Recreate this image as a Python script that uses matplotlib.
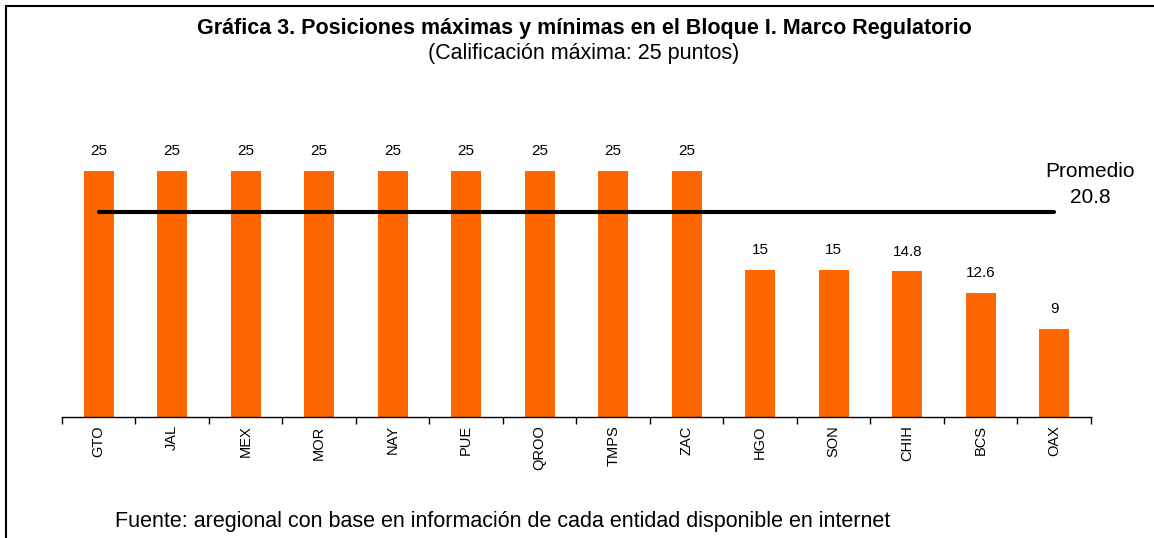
import numpy as np
import matplotlib.pyplot as plt
from matplotlib.patches import Rectangle

plt.rcParams['font.family'] = ['Liberation Sans', 'DejaVu Sans']

# Datos
estados = ['GTO', 'JAL', 'MEX', 'MOR', 'NAY', 'PUE', 'QROO', 'TMPS', 'ZAC',
           'HGO', 'SON', 'CHIH', 'BCS', 'OAX']
puntos = [25, 25, 25, 25, 25, 25, 25, 25, 25, 15, 15, 14.8, 12.6, 9]
etiquetas = ['25', '25', '25', '25', '25', '25', '25', '25', '25',
             '15', '15', '14.8', '12.6', '9']
promedio = 20.8

fig = plt.figure(figsize=(11.54, 5.38), dpi=100)
ax = fig.add_axes([0.0537, 0.2249, 0.8917, 0.5483])

x = np.arange(len(estados))
ax.bar(x, puntos, width=0.41, color='#FF6600', zorder=2)
for xi, v, t in zip(x, puntos, etiquetas):
    ax.text(xi, v + 1.3, t, ha='center', va='bottom', fontsize=11)

# linea de promedio
ax.plot([x[0], x[-1]], [promedio, promedio], color='black', lw=3, zorder=3,
        solid_capstyle='round')
ax.text(x[-1] + 0.49, promedio + 0.6, 'Promedio\n20.8', ha='center', va='bottom',
        fontsize=15, linespacing=1.45)

ax.set_xlim(-0.5, len(estados) - 0.5)
ax.set_ylim(0, 30)
ax.set_xticks(x)
ax.set_xticklabels(estados, rotation=90, fontsize=10.5)
ax.set_xticks(np.arange(-0.5, len(estados)), minor=True)
ax.tick_params(axis='x', which='major', length=0, pad=6)
ax.tick_params(axis='x', which='minor', length=5, width=1, direction='out')
ax.set_yticks([])
for s in ['top', 'left', 'right']:
    ax.spines[s].set_visible(False)
ax.spines['bottom'].set_linewidth(1)

fig.text(0.506, 0.947, 'Gráfica 3. Posiciones máximas y mínimas en el Bloque I. Marco Regulatorio',
         ha='center', va='center', fontsize=15.5, fontweight='bold')
fig.text(0.506, 0.901, '(Calificación máxima: 25 puntos)', ha='center', va='center', fontsize=15.5)
fig.text(0.1, 0.03, 'Fuente: aregional con base en información de cada entidad disponible en internet',
         ha='left', va='center', fontsize=15.5)

# marco
fig.add_artist(Rectangle((6 / 1154, -0.1), 1.2, 1 - 6 / 538 + 0.1, transform=fig.transFigure,
                         fill=False, edgecolor='black', lw=1.5))

fig.savefig('out.png', dpi=100)
